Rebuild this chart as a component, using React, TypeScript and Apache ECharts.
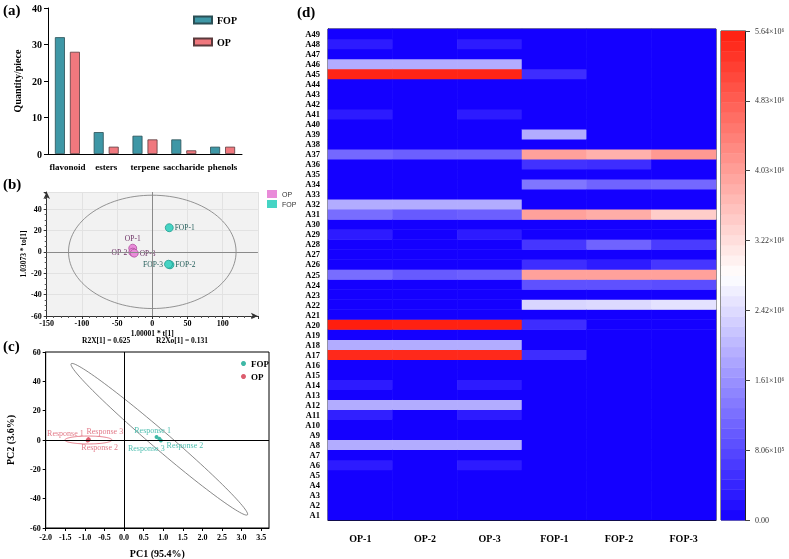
import React, { useEffect, useRef } from 'react';
import * as echarts from 'echarts';

const SERIF = "'Liberation Serif', 'Times New Roman', serif";
const SANS = "'Liberation Sans', Arial, sans-serif";

// (a) number of compounds per class
const compoundClasses = ['flavonoid', 'esters', 'terpene', 'saccharide', 'phenols'];
const fopClassCounts = [32, 6, 5, 4, 2];
const opClassCounts = [28, 2, 4, 1, 2];

// (b) OPLS-DA scores: predictive t[1] and orthogonal to[1]
const oplsOpSamples = ['OP-1', 'OP-2', 'OP-3'];
const oplsOpT = [-27.8, -27.8, -25.6];
const oplsOpTo = [3.4, -0.3, -1.2];
const oplsFopSamples = ['FOP-1', 'FOP-2', 'FOP-3'];
const oplsFopT = [24.1, 25.1, 23.0];
const oplsFopTo = [22.6, -12.1, -11.6];
const oplsEllipseRadii = [119, 53];
const oplsStats = ['R2X[1] = 0.625', 'R2Xo[1] = 0.131'];

// (c) PCA scores
const pcaResponses = ['Response 1', 'Response 2', 'Response 3'];
const pcaFopPc1 = [0.83, 0.94, 0.9];
const pcaFopPc2 = [2.0, -0.4, 0.8];
const pcaOpPc1 = [-0.91, -0.93, -0.9];
const pcaOpPc2 = [0.6, -0.4, 0.2];
// confidence ellipses: centre (x, y), first semi-axis (x, y), second semi-axis (x, y)
const pcaAllEllipse = [0.9, 0.5, 2.25, -51.5, -0.15, -4.6];
const pcaOpEllipse = [-0.91, 0, 0.6, 0, 0, 2.7];

// (d) peak areas (×10⁶), compounds A1 → A49
const heatSamples = ['OP-1', 'OP-2', 'OP-3', 'FOP-1', 'FOP-2', 'FOP-3'];
const heatCompounds = Array.from({ length: 49 }, (_, i) => `A${i + 1}`);
const areaOp1 = [
  0, 0, 0, 0, 0, 0.3, 0, 1.9, 0, 0,
  0.35, 1.9, 0, 0.3, 0, 0, 5.5, 1.9, 0, 5.64,
  0, 0, 0, 0, 1.2, 0, 0, 0, 0.3, 0,
  1.2, 1.9, 0, 0, 0, 0, 1.15, 0, 0, 0,
  0.3, 0, 0, 0, 5.55, 1.9, 0, 0.3, 0,
];
const areaOp2 = [
  0, 0, 0, 0, 0, 0, 0, 1.9, 0, 0,
  0, 1.9, 0, 0, 0, 0, 5.5, 1.9, 0, 5.6,
  0, 0, 0, 0, 1.0, 0, 0, 0, 0, 0,
  1.0, 1.9, 0, 0, 0, 0, 1.05, 0, 0, 0,
  0, 0, 0, 0, 5.55, 1.9, 0, 0, 0,
];
const areaOp3 = [
  0, 0, 0, 0, 0, 0.3, 0, 1.9, 0, 0,
  0.3, 1.9, 0, 0.3, 0, 0, 5.5, 1.9, 0, 5.6,
  0, 0, 0, 0, 1.05, 0, 0, 0, 0.3, 0,
  1.05, 1.9, 0, 0, 0, 0, 1.05, 0, 0, 0,
  0.3, 0, 0, 0, 5.55, 1.9, 0, 0.3, 0,
];
const areaFop1 = [
  0, 0, 0, 0, 0, 0, 0, 0, 0, 0,
  0, 0, 0, 0, 0, 0, 0.5, 0, 0, 0.5,
  0, 2.35, 0, 0.9, 4.0, 0.5, 0, 0.6, 0, 0,
  4.0, 0, 0, 1.3, 0, 0.55, 4.0, 0, 1.9, 0,
  0, 0, 0, 0, 0.5, 0, 0, 0, 0,
];
const areaFop2 = [
  0, 0, 0, 0, 0, 0, 0, 0, 0, 0,
  0, 0, 0, 0, 0, 0, 0, 0, 0, 0,
  0, 2.4, 0, 0.9, 4.0, 0.3, 0, 1.1, 0, 0,
  3.85, 0, 0, 1.1, 0, 0.5, 3.8, 0, 0, 0,
  0, 0, 0, 0, 0, 0, 0, 0, 0,
];
const areaFop3 = [
  0, 0, 0, 0, 0, 0, 0, 0, 0, 0,
  0, 0, 0, 0, 0, 0, 0, 0, 0, 0,
  0, 2.5, 0, 0.85, 4.0, 0.6, 0, 0.65, 0, 0,
  3.45, 0, 0, 1.15, 0, 0, 4.1, 0, 0, 0,
  0, 0, 0, 0, 0, 0, 0, 0, 0,
];
const heatAreas = [areaOp1, areaOp2, areaOp3, areaFop1, areaFop2, areaFop3];
const colorMax = 5.64;
const colorbarLabels = ['0.00', '8.06×10⁵', '1.61×10⁶', '2.42×10⁶', '3.22×10⁶', '4.03×10⁶', '4.83×10⁶', '5.64×10⁶'];

const ellipseRenderer = (stroke: string, lineWidth: number) => (_params: any, api: any) => {
  const v = [0, 1, 2, 3, 4, 5].map((i) => api.value(i));
  const points: number[][] = [];
  for (let k = 0; k <= 120; k++) {
    const t = (k / 120) * Math.PI * 2;
    points.push(
      api.coord([
        v[0] + v[2] * Math.cos(t) + v[4] * Math.sin(t),
        v[1] + v[3] * Math.cos(t) + v[5] * Math.sin(t),
      ])
    );
  }
  return { type: 'polyline', shape: { points }, style: { fill: 'none', stroke, lineWidth }, silent: true };
};

export default function App() {
  const ref = useRef<HTMLDivElement>(null);

  useEffect(() => {
    const chart = echarts.init(ref.current!, null, { renderer: 'svg' });

    const bold = (size: number, color = '#000') => ({ fontFamily: SERIF, fontWeight: 'bold' as const, fontSize: size, color });

    const oplsOpLabelPos = ['top', 'left', 'right'];
    const oplsFopLabelPos = ['right', 'right', 'left'];
    const pcaFopOffsets = [[-4, -7], [24, 5], [-13, 10]];
    const pcaOpOffsets = [[-23, -6], [12, 7], [16, -8]];

    const heatData: number[][] = [];
    heatAreas.forEach((col, j) => col.forEach((v, i) => heatData.push([j, i, v])));

    const bandCount = 48;
    const bands = Array.from({ length: bandCount }, (_, i) => {
      const lo = (i * colorMax) / bandCount;
      const hi = ((i + 1) * colorMax) / bandCount;
      return [0, lo, (lo + hi) / 2, hi];
    });
    const cbStep = colorMax / 7;

    const option: any = {
      animation: false,
      textStyle: { fontFamily: SERIF },
      grid: [
        { left: 48, top: 8, width: 194, height: 146 },
        { left: 46.7, top: 192, width: 211.2, height: 124, show: true, backgroundColor: '#f2f2f2', borderWidth: 0 },
        { left: 45.7, top: 352, width: 223.3, height: 179.5, show: true, borderColor: '#000', borderWidth: 1 },
        { left: 328, top: 29, width: 388, height: 491, show: true, borderColor: '#111', borderWidth: 1 },
        { left: 721, top: 31, width: 24, height: 489, show: true, borderColor: '#222', borderWidth: 1 },
      ],
      legend: [
        {
          data: ['FOP', 'OP'],
          orient: 'vertical',
          left: 188,
          top: 10,
          icon: 'rect',
          itemWidth: 18,
          itemHeight: 7,
          itemGap: 12,
          textStyle: bold(10),
        },
        {
          data: ['OPLS:OP', 'OPLS:FOP'],
          formatter: (n: string) => n.replace(/^.*:/, ''),
          orient: 'vertical',
          left: 262,
          top: 185,
          icon: 'rect',
          itemWidth: 10,
          itemHeight: 8,
          itemGap: 2,
          itemStyle: { borderWidth: 0 },
          textStyle: { fontFamily: SANS, fontSize: 7, color: '#333' },
        },
        {
          data: ['PCA:FOP', 'PCA:OP'],
          formatter: (n: string) => n.replace(/^.*:/, ''),
          orient: 'vertical',
          left: 236,
          top: 354,
          icon: 'circle',
          itemWidth: 5,
          itemHeight: 5,
          itemGap: 4,
          textStyle: bold(9),
        },
      ],
      xAxis: [
        {
          gridIndex: 0,
          type: 'category',
          data: compoundClasses,
          axisLine: { lineStyle: { color: '#000', width: 1 } },
          axisTick: { alignWithLabel: true, length: 4, lineStyle: { color: '#000' } },
          axisLabel: { ...bold(9), interval: 0, margin: 8 },
        },
        {
          gridIndex: 1,
          type: 'value',
          min: -150,
          max: 150,
          interval: 50,
          axisLine: { onZero: false, symbol: ['none', 'arrow'], symbolSize: [5, 7], lineStyle: { color: '#333' } },
          axisTick: { length: 3, lineStyle: { color: '#333' } },
          minorTick: { show: true, splitNumber: 5, length: 2, lineStyle: { color: '#555' } },
          axisLabel: { ...bold(8), margin: 3, showMaxLabel: false },
          splitLine: { show: true, lineStyle: { color: '#e2e2e2' } },
          name: '1.00001 * t[1]',
          nameLocation: 'middle',
          nameGap: 13,
          nameTextStyle: bold(7.5),
        },
        {
          gridIndex: 2,
          type: 'value',
          min: -2,
          max: 3.7,
          interval: 0.5,
          axisLine: { onZero: false, lineStyle: { color: '#000' } },
          axisTick: { length: 3, lineStyle: { color: '#000' } },
          axisLabel: { ...bold(8), margin: 5, showMaxLabel: false, formatter: (v: number) => v.toFixed(1) },
          splitLine: { show: false },
          name: 'PC1 (95.4%)',
          nameLocation: 'middle',
          nameGap: 20,
          nameTextStyle: bold(10),
        },
        {
          gridIndex: 3,
          type: 'category',
          data: heatSamples,
          axisLine: { lineStyle: { color: '#111' } },
          axisTick: { alignWithLabel: true, length: 5, lineStyle: { color: '#111' } },
          axisLabel: { ...bold(10), margin: 13 },
        },
        {
          gridIndex: 4,
          type: 'category',
          data: ['scale'],
          show: false,
        },
      ],
      yAxis: [
        {
          gridIndex: 0,
          type: 'value',
          min: 0,
          max: 40,
          interval: 10,
          axisLine: { show: true, lineStyle: { color: '#000' } },
          axisTick: { show: true, length: 4, lineStyle: { color: '#000' } },
          axisLabel: { ...bold(10), margin: 6 },
          splitLine: { show: false },
          name: 'Quantity/piece',
          nameLocation: 'middle',
          nameGap: 26,
          nameTextStyle: bold(10),
        },
        {
          gridIndex: 1,
          type: 'value',
          min: -60,
          max: 56,
          interval: 20,
          axisLine: { show: true, onZero: false, symbol: ['none', 'arrow'], symbolSize: [5, 7], lineStyle: { color: '#333' } },
          axisTick: { show: true, length: 3, lineStyle: { color: '#333' } },
          minorTick: { show: true, splitNumber: 4, length: 2, lineStyle: { color: '#555' } },
          axisLabel: { ...bold(8), margin: 5, showMaxLabel: false },
          splitLine: { show: true, lineStyle: { color: '#e2e2e2' } },
          name: '1.03073 * to[1]',
          nameLocation: 'middle',
          nameGap: 16,
          nameTextStyle: bold(7.5),
        },
        {
          gridIndex: 2,
          type: 'value',
          min: -60,
          max: 60,
          interval: 20,
          axisLine: { show: true, onZero: false, lineStyle: { color: '#000' } },
          axisTick: { show: true, length: 3, lineStyle: { color: '#000' } },
          axisLabel: { ...bold(8), margin: 5 },
          splitLine: { show: false },
          name: 'PC2 (3.6%)',
          nameLocation: 'middle',
          nameGap: 30,
          nameTextStyle: bold(10),
        },
        {
          gridIndex: 3,
          type: 'category',
          data: heatCompounds,
          axisLine: { lineStyle: { color: '#111' } },
          axisTick: { alignWithLabel: true, length: 5, lineStyle: { color: '#111' } },
          axisLabel: { ...bold(8.5), interval: 0, margin: 8 },
        },
        {
          gridIndex: 4,
          type: 'value',
          position: 'right',
          min: 0,
          max: colorMax,
          interval: cbStep,
          axisLine: { show: true, lineStyle: { color: '#222' } },
          axisTick: { show: true, length: 5, lineStyle: { color: '#444' } },
          axisLabel: {
            fontFamily: SERIF,
            fontSize: 8,
            color: '#333',
            margin: 10,
            formatter: (v: number) => colorbarLabels[Math.round(v / cbStep)] ?? '',
          },
          splitLine: { show: false },
        },
      ],
      visualMap: {
        type: 'continuous',
        show: false,
        min: 0,
        max: colorMax,
        dimension: 2,
        seriesIndex: [9, 10],
        inRange: { color: ['#1400ff', '#ffffff', '#ff1e0f'] },
      },
      series: [
        {
          name: 'FOP',
          type: 'bar',
          xAxisIndex: 0,
          yAxisIndex: 0,
          data: fopClassCounts,
          barWidth: 10,
          barGap: '50%',
          itemStyle: { color: '#3e97a6', borderColor: '#2b4f55', borderWidth: 0.8 },
        },
        {
          name: 'OP',
          type: 'bar',
          xAxisIndex: 0,
          yAxisIndex: 0,
          data: opClassCounts,
          barWidth: 10,
          itemStyle: { color: '#f0787e', borderColor: '#5a3a3c', borderWidth: 0.8 },
        },
        {
          name: 'OPLS:OP',
          type: 'scatter',
          xAxisIndex: 1,
          yAxisIndex: 1,
          symbolSize: 8,
          itemStyle: { color: '#e98bd9', borderColor: '#b0509f', borderWidth: 0.8, opacity: 1 },
          label: { show: true, formatter: '{b}', fontFamily: SERIF, fontSize: 7.5, color: '#6b2f63', distance: 1 },
          data: oplsOpSamples.map((n, i) => ({
            name: n,
            value: [oplsOpT[i], oplsOpTo[i]],
            label: { position: oplsOpLabelPos[i] },
          })),
          markLine: {
            silent: true,
            symbol: 'none',
            label: { show: false },
            lineStyle: { color: '#8a8a8a', type: 'solid', width: 1 },
            data: [{ xAxis: 0 }, { yAxis: 0 }],
          },
        },
        {
          name: 'OPLS:FOP',
          type: 'scatter',
          xAxisIndex: 1,
          yAxisIndex: 1,
          symbolSize: 8,
          itemStyle: { color: '#45d4c4', borderColor: '#219a8e', borderWidth: 0.8, opacity: 1 },
          label: { show: true, formatter: '{b}', fontFamily: SERIF, fontSize: 7.5, color: '#245e5a', distance: 1 },
          data: oplsFopSamples.map((n, i) => ({
            name: n,
            value: [oplsFopT[i], oplsFopTo[i]],
            label: { position: oplsFopLabelPos[i] },
          })),
        },
        {
          type: 'custom',
          xAxisIndex: 1,
          yAxisIndex: 1,
          clip: false,
          silent: true,
          z: 1,
          dimensions: ['cx', 'cy', 'ax', 'ay', 'bx', 'by'],
          encode: { x: 0, y: 1 },
          renderItem: ellipseRenderer('#7a7a7a', 0.8),
          data: [[0, 0, oplsEllipseRadii[0], 0, 0, oplsEllipseRadii[1]]],
        },
        {
          name: 'PCA:FOP',
          type: 'scatter',
          xAxisIndex: 2,
          yAxisIndex: 2,
          symbolSize: 4,
          itemStyle: { color: '#3fb8a6', opacity: 1 },
          label: { show: true, formatter: '{b}', fontFamily: SERIF, fontSize: 8, color: '#4fbfb0' },
          data: pcaResponses.map((n, i) => ({
            name: n,
            value: [pcaFopPc1[i], pcaFopPc2[i]],
            label: { position: 'inside', offset: pcaFopOffsets[i] },
          })),
          markLine: {
            silent: true,
            symbol: 'none',
            label: { show: false },
            lineStyle: { color: '#000', type: 'solid', width: 1 },
            data: [{ xAxis: 0 }, { yAxis: 0 }],
          },
        },
        {
          name: 'PCA:OP',
          type: 'scatter',
          xAxisIndex: 2,
          yAxisIndex: 2,
          symbolSize: 4,
          itemStyle: { color: '#dc5d6e', opacity: 1 },
          label: { show: true, formatter: '{b}', fontFamily: SERIF, fontSize: 8, color: '#e27a88' },
          data: pcaResponses.map((n, i) => ({
            name: n,
            value: [pcaOpPc1[i], pcaOpPc2[i]],
            label: { position: 'inside', offset: pcaOpOffsets[i] },
          })),
        },
        {
          type: 'custom',
          xAxisIndex: 2,
          yAxisIndex: 2,
          clip: false,
          silent: true,
          dimensions: ['cx', 'cy', 'ax', 'ay', 'bx', 'by'],
          encode: { x: 0, y: 1 },
          renderItem: ellipseRenderer('#6a6a6a', 0.8),
          data: [pcaAllEllipse],
        },
        {
          type: 'custom',
          xAxisIndex: 2,
          yAxisIndex: 2,
          clip: false,
          silent: true,
          dimensions: ['cx', 'cy', 'ax', 'ay', 'bx', 'by'],
          encode: { x: 0, y: 1 },
          renderItem: ellipseRenderer('#e06070', 0.8),
          data: [pcaOpEllipse],
        },
        {
          type: 'heatmap',
          xAxisIndex: 3,
          yAxisIndex: 3,
          data: heatData,
          progressive: 0,
          itemStyle: { borderWidth: 0 },
        },
        {
          type: 'custom',
          xAxisIndex: 4,
          yAxisIndex: 4,
          silent: true,
          dimensions: ['x', 'lo', 'mid', 'hi'],
          encode: { x: 0, y: [1, 3] },
          data: bands,
          renderItem: (params: any, api: any) => {
            const lo = api.coord([0, api.value(1)]);
            const hi = api.coord([0, api.value(3)]);
            const cs = params.coordSys;
            return {
              type: 'rect',
              shape: { x: cs.x, y: hi[1], width: cs.width, height: lo[1] - hi[1] + 0.4 },
              style: { fill: api.visual('color') },
            };
          },
        },
      ],
      graphic: [
        { type: 'text', left: 3, top: 2, style: { text: '(a)', font: `bold 15px ${SERIF}`, fill: '#000' } },
        { type: 'text', left: 3, top: 176, style: { text: '(b)', font: `bold 15px ${SERIF}`, fill: '#000' } },
        { type: 'text', left: 3, top: 338, style: { text: '(c)', font: `bold 15px ${SERIF}`, fill: '#000' } },
        { type: 'text', left: 297, top: 4, style: { text: '(d)', font: `bold 15px ${SERIF}`, fill: '#000' } },
        { type: 'text', left: 82, top: 336, style: { text: oplsStats[0], font: `bold 7.5px ${SERIF}`, fill: '#000' } },
        { type: 'text', left: 156, top: 336, style: { text: oplsStats[1], font: `bold 7.5px ${SERIF}`, fill: '#000' } },
      ],
    };

    chart.setOption(option);
    return () => chart.dispose();
  }, []);

  return <div ref={ref} style={{ position: 'fixed', left: 0, top: 0, width: 789, height: 559 }} />;
}
